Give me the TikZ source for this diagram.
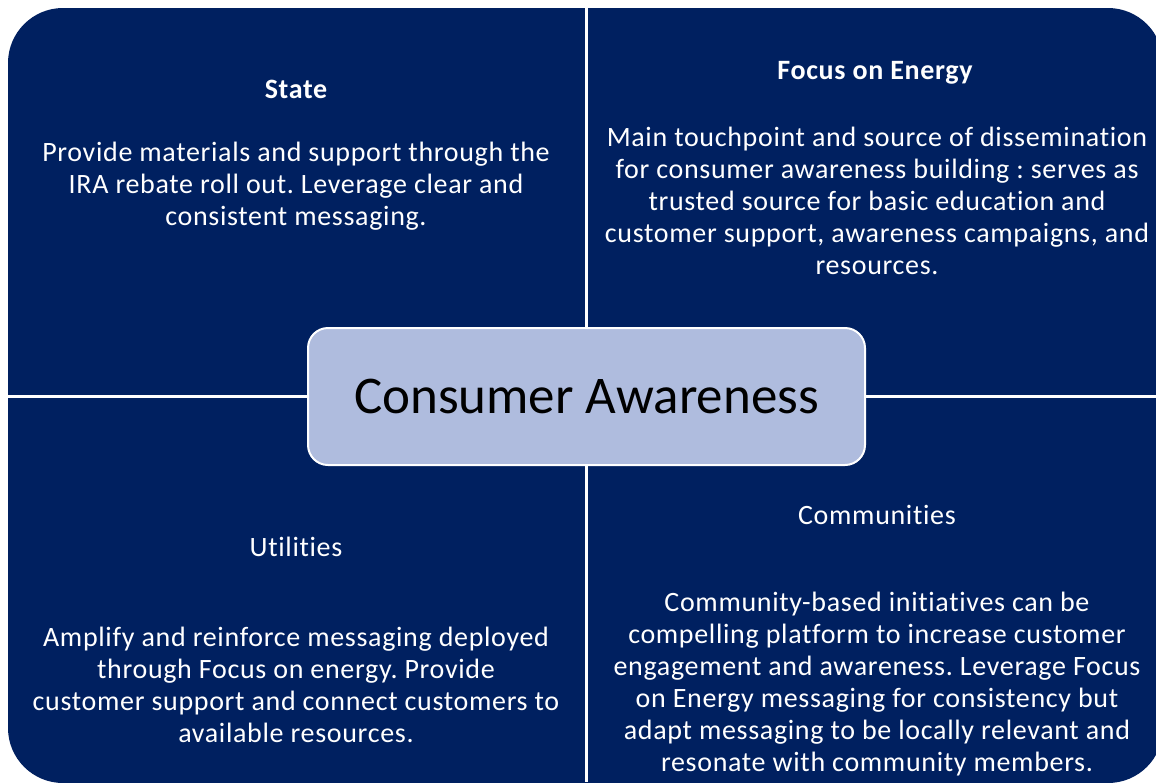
\documentclass[tikz,border=0pt]{standalone}
\usepackage{fontspec}
\setmainfont{Carlito}[Ligatures=NoCommon]
\frenchspacing
\definecolor{navy}{RGB}{0,32,96}
\definecolor{lavender}{RGB}{175,188,222}
\tikzset{
  quadtext/.style={text=white,align=center,inner sep=0pt,
    font=\fontsize{28}{32}\selectfont\addfontfeature{LetterSpace=2.4}},
  quadtitle/.style={quadtext,font=\fontsize{28}{32}\selectfont\bfseries\addfontfeature{LetterSpace=2.4}},
  hub/.style={draw=white,line width=2pt,fill=lavender,rounded corners=20pt,
    minimum width=557pt,minimum height=137pt,font=\fontsize{53}{60}\selectfont}
}
\begin{document}
\begin{tikzpicture}[x=1pt,y=-1pt]
  \useasboundingbox (0,0) rectangle (1156,782);
  \fill[white] (0,0) rectangle (1156,782);
  % the four quadrants
  \begin{scope}
    \clip (0,0) rectangle (1156,782);
    \fill[navy,rounded corners=55pt] (8,8) rectangle (1163,783);
  \end{scope}
  \draw[white,line width=3pt] (586.5,0)--(586.5,782);
  \draw[white,line width=3pt] (0,396.5)--(1156,396.5);
  % centre
  \node[hub] (hub) at (586.5,396.5) {Consumer Awareness};
  % top left
  \node[quadtitle] (state) at (296,89) {State};
  \node[quadtext] (statebody) at (296,186) {Provide materials and support through the\\
    IRA rebate roll out. Leverage clear and\\consistent messaging.};
  % top right
  \node[quadtitle] (foe) at (875,73) {Focus on Energy};
  \node[quadtext] (foebody) at (877,201) {Main touchpoint and source of dissemination\\
    for consumer awareness building : serves as\\trusted source for basic education and\\
    customer support, awareness campaigns, and\\resources.};
  % bottom left
  \node[quadtext] (util) at (296,547) {Utilities};
  \node[quadtext] (utilbody) at (296,685) {Amplify and reinforce messaging deployed\\
    through Focus on energy. Provide\\customer support and connect customers to\\
    available resources.};
  % bottom right
  \node[quadtext] (comm) at (877,515) {Communities};
  \node[quadtext] (commbody) at (877,684) {Community-based initiatives can be\\
    compelling platform to increase customer\\engagement and awareness. Leverage Focus\\
    on Energy messaging for consistency but\\adapt messaging to be locally relevant and\\
    resonate with community members.};
\end{tikzpicture}
\end{document}
